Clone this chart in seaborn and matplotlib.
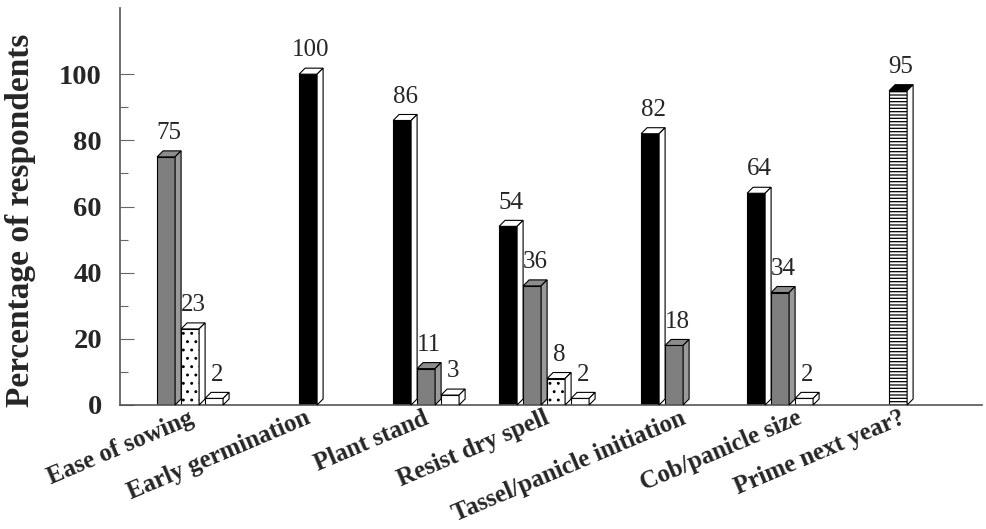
import pandas as pd
import seaborn as sns
import matplotlib.pyplot as plt
import matplotlib.transforms as mtransforms
from matplotlib.patches import Polygon
from matplotlib.ticker import FixedLocator

# Respondents' rating of primed crop (percentage)

categories = ['Ease of sowing', 'Early germination', 'Plant stand', 'Resist dry spell',
              'Tassel/panicle initiation', 'Cob/panicle size', 'Prime next year?']
series = ['Excellent', 'Good', 'Fair', 'Poor', 'Yes']

# None = no bar in that group
excellent = [None, 100, 86, 54, 82, 64, None]
good = [75, None, 11, 36, 18, 34, None]
fair = [23, None, None, 8, None, None, None]
poor = [2, None, 3, 2, None, 2, None]
yes = [None, None, None, None, None, None, 95]

y_ticks = [0, 20, 40, 60, 80, 100]

# styles per series: front, top, side, hatch
front_col = {'Excellent': 'black', 'Good': '#7f7f7f', 'Fair': 'white', 'Poor': 'white', 'Yes': 'white'}
top_col = {'Excellent': 'white', 'Good': '#8c8c8c', 'Fair': 'white', 'Poor': 'white', 'Yes': 'black'}
side_col = {'Excellent': 'white', 'Good': '#9a9a9a', 'Fair': 'white', 'Poor': 'white', 'Yes': 'white'}
hatches = {'Excellent': None, 'Good': None, 'Fair': '..', 'Poor': None, 'Yes': '-----'}

pitch = 0.2034   # distance between bars inside a group (x units)
front = 0.1525   # front face width
shift = 0.025
depth_px = 6
label_nudge_px = [2, 1, 1, 3, 22, 20, 6]

rows = []
cols = dict(zip(series, [excellent, good, fair, poor, yes]))
for i, cat in enumerate(categories):
    present = [s for s in series if cols[s][i] is not None]
    n = len(present)
    for k, s in enumerate(present):
        rows.append({'category': cat, 'series': s, 'value': cols[s][i],
                     'x': i + (k - (n - 1) / 2) * pitch - shift})
df = pd.DataFrame(rows)

sns.set_style('ticks')
plt.rcParams['font.family'] = ['Liberation Serif', 'DejaVu Serif']
plt.rcParams['hatch.linewidth'] = 0.9

fig, ax = plt.subplots(figsize=(9.86, 5.29), dpi=100)
fig.subplots_adjust(left=120 / 986, right=982 / 986, bottom=1 - 405 / 529, top=1 - 8 / 529)

sns.barplot(data=df, x='x', y='value', hue='series', hue_order=series, palette=front_col,
            native_scale=True, orient='x', dodge=False, width=front / pitch,
            errorbar=None, legend=False, edgecolor='black', linewidth=0.8, ax=ax)

ax.set_xlim(-0.619, 6.686)
ax.set_ylim(0, 120)

# pixel -> data sizes for the 3D faces
p0 = ax.transData.transform((0, 0))
p1 = ax.transData.transform((1, 1))
dx = depth_px / (p1[0] - p0[0])
dy = depth_px / (p1[1] - p0[1])

for bar in ax.patches:
    x0 = bar.get_x()
    w = bar.get_width()
    h = bar.get_height()
    if h <= 0:
        continue
    row = df.iloc[(df['x'] - (x0 + w / 2)).abs().argmin()]
    s = row['series']
    if hatches[s]:
        bar.set_hatch(hatches[s])
    x1 = x0 + w
    top = Polygon([(x0, h), (x1, h), (x1 + dx, h + dy), (x0 + dx, h + dy)], closed=True,
                  facecolor=top_col[s], edgecolor='black', linewidth=0.8, clip_on=False, zorder=3)
    side = Polygon([(x1, 0), (x1 + dx, dy), (x1 + dx, h + dy), (x1, h)], closed=True,
                   facecolor=side_col[s], edgecolor='black', linewidth=0.8, clip_on=False, zorder=3)
    ax.add_patch(top)
    ax.add_patch(side)
    ax.annotate(f"{row['value']:g}", (x0 + w / 2 + dx / 2, h + dy), xytext=(0, 8.5),
                textcoords='offset points', ha='center', va='baseline', fontsize=18)

ax.set_xticks(range(len(categories)))
ax.set_xticklabels(categories, rotation=23, ha='right', va='baseline', rotation_mode='anchor',
                   fontsize=18, fontweight='bold')
ax.tick_params(axis='x', length=0, pad=13)
for lab, nx in zip(ax.get_xticklabels(), label_nudge_px):
    lab.set_transform(lab.get_transform() + mtransforms.ScaledTranslation(nx / 100, 0, fig.dpi_scale_trans))

ax.set_yticks(y_ticks)
ax.set_yticklabels([str(t) for t in y_ticks], fontsize=20.5, fontweight='bold')
ax.yaxis.set_minor_locator(FixedLocator([10, 30, 50, 70, 90]))
ax.tick_params(axis='y', which='major', direction='in', length=10, width=0.8, color='#666666', pad=13)
ax.tick_params(axis='y', which='minor', direction='in', length=6, width=0.8, color='#666666')

ax.set_xlabel('')
ax.set_ylabel('Percentage of respondents', fontsize=24, fontweight='bold')
ax.yaxis.set_label_coords(-0.098, 0.466)

sns.despine(ax=ax)
for sp in ['left', 'bottom']:
    ax.spines[sp].set_color('#555555')
    ax.spines[sp].set_linewidth(1.2)

fig.savefig('out.png', dpi=100)
